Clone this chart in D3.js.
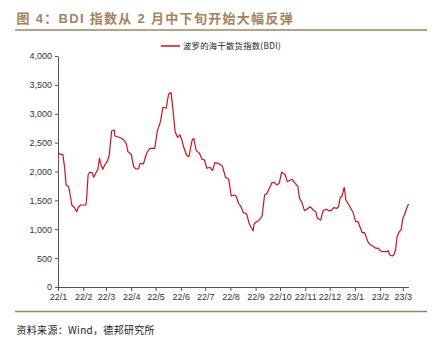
<!DOCTYPE html>
<html>
<head>
<meta charset="utf-8">
<script src="https://cdn.jsdelivr.net/npm/d3@7"></script>
<style>
  html, body { margin: 0; padding: 0; background: #fff; }
  svg { display: block; }
</style>
</head>
<body>
<svg id="chart" width="434" height="342"></svg>
<script>
// Baltic Dry Index, 2022-01 to 2023-03
const dates = [
  "2022-01-02","2022-01-07","2022-01-09","2022-01-11","2022-01-14","2022-01-16","2022-01-18","2022-01-21","2022-01-24","2022-01-26","2022-01-29",
  "2022-02-04","2022-02-05","2022-02-07","2022-02-09","2022-02-12","2022-02-14","2022-02-17","2022-02-19","2022-02-21","2022-02-23","2022-02-25","2022-02-28",
  "2022-03-03","2022-03-05","2022-03-08","2022-03-11","2022-03-12","2022-03-17","2022-03-20","2022-03-23","2022-03-26","2022-03-28",
  "2022-04-01","2022-04-04","2022-04-07","2022-04-10","2022-04-12","2022-04-16","2022-04-20","2022-04-24","2022-04-30",
  "2022-05-03","2022-05-07","2022-05-10","2022-05-14","2022-05-17","2022-05-20","2022-05-22","2022-05-25","2022-05-28","2022-05-31",
  "2022-06-02","2022-06-05","2022-06-08","2022-06-11","2022-06-15","2022-06-17","2022-06-20","2022-06-24","2022-06-27","2022-06-30",
  "2022-07-03","2022-07-07","2022-07-10","2022-07-13","2022-07-17","2022-07-22","2022-07-26","2022-07-30",
  "2022-08-02","2022-08-06","2022-08-08","2022-08-11","2022-08-14","2022-08-17","2022-08-21","2022-08-24","2022-08-26","2022-08-29","2022-08-30",
  "2022-09-02","2022-09-05","2022-09-09","2022-09-12","2022-09-15","2022-09-18","2022-09-21","2022-09-24","2022-09-27","2022-09-30",
  "2022-10-03","2022-10-07","2022-10-10","2022-10-14","2022-10-16","2022-10-19","2022-10-23","2022-10-25","2022-10-28","2022-10-31",
  "2022-11-03","2022-11-07","2022-11-11","2022-11-14","2022-11-16","2022-11-20","2022-11-23","2022-11-27","2022-11-30",
  "2022-12-03","2022-12-06","2022-12-10","2022-12-12","2022-12-14","2022-12-16","2022-12-19","2022-12-21","2022-12-24","2022-12-27","2022-12-30",
  "2023-01-02","2023-01-05","2023-01-08","2023-01-10","2023-01-13","2023-01-17","2023-01-19","2023-01-24","2023-01-27","2023-01-30",
  "2023-02-01","2023-02-05","2023-02-09","2023-02-11","2023-02-13","2023-02-16","2023-02-18","2023-02-20","2023-02-22","2023-02-24","2023-02-27",
  "2023-03-01","2023-03-03","2023-03-05","2023-03-08"
];
const bdi = [
  2304,2291,2084,1767,1737,1593,1420,1380,1304,1380,1420,
  1420,1478,1940,1987,1980,1900,1987,2038,2229,2113,2038,2125,
  2188,2286,2702,2719,2615,2593,2575,2546,2477,2344,
  2298,2084,2044,2049,2142,2130,2316,2402,2402,
  2690,2863,3112,3095,3343,3366,3123,2690,2593,2633,
  2558,2402,2286,2257,2546,2575,2361,2316,2212,2200,
  2056,2073,2015,2153,2142,2096,1900,1865,
  1576,1593,1576,1450,1391,1287,1264,1103,1044,975,1086,
  1131,1148,1230,1593,1623,1709,1806,1813,1767,1796,
  1987,1952,1824,1853,1865,1806,1737,1536,1460,1322,
  1346,1391,1334,1304,1190,1160,1322,1346,1322,
  1322,1374,1363,1391,1553,1564,1727,1507,1438,1363,1287,
  1131,1131,1017,940,940,785,745,698,670,675,
  629,611,611,629,554,537,554,641,871,940,999,
  1190,1247,1334,1438
];
const yTicks = [0, 500, 1000, 1500, 2000, 2500, 3000, 3500, 4000];
const monthTicks = [
  "2022-01-01","2022-02-01","2022-03-01","2022-04-01","2022-05-01","2022-06-01","2022-07-01",
  "2022-08-01","2022-09-01","2022-10-01","2022-11-01","2022-12-01","2023-01-01","2023-02-01","2023-03-01"
];
const seriesName = "波罗的海干散货指数(BDI)";
const titleText = "图 4：BDI 指数从 2 月中下旬开始大幅反弹";
const sourceText = "资料来源：Wind，德邦研究所";

const parse = d3.utcParse("%Y-%m-%d");
const points = dates.map((d, i) => ({ date: parse(d), value: bdi[i] }));

const svg = d3.select("#chart");
const margin = { left: 58, right: 25.5, top: 56, bottom: 55 };
const W = 434, H = 342;

const x = d3.scaleUtc()
  .domain([parse("2022-01-01"), parse("2023-03-08")])
  .range([margin.left, W - margin.right]);
const y = d3.scaleLinear()
  .domain([0, 4000])
  .range([H - margin.bottom, margin.top]);

const brown = "#a5825e";
const cjk = "'Noto Sans CJK SC', 'Liberation Sans', sans-serif";
const latin = "'Liberation Sans', Arial, sans-serif";

// Title and rule beneath it
svg.append("text")
  .attr("x", 16.5).attr("y", 22.5)
  .attr("fill", brown)
  .attr("font-family", `'Liberation Sans', ${cjk}`)
  .attr("font-weight", "bold")
  .attr("font-size", 13)
  .attr("letter-spacing", 1.3)
  .text(titleText);
svg.append("line")
  .attr("x1", 15).attr("x2", 427)
  .attr("y1", 30).attr("y2", 30)
  .attr("stroke", brown).attr("stroke-width", 1.5);

// Legend
const lg = svg.append("g").attr("transform", "translate(161,46)");
lg.append("line").attr("x1", 0).attr("x2", 19).attr("y1", 0).attr("y2", 0)
  .attr("stroke", "#d0111b").attr("stroke-width", 1.5);
lg.append("text").attr("x", 22).attr("y", 3)
  .attr("font-family", cjk).attr("font-size", 8.3).attr("fill", "#222")
  .attr("letter-spacing", 0.3)
  .text(seriesName);

// Y axis
const yAxis = svg.append("g")
  .attr("transform", `translate(${margin.left},0)`)
  .call(d3.axisLeft(y).tickValues(yTicks).tickFormat(d3.format(",")).tickSize(3).tickSizeOuter(0));
yAxis.select(".domain").attr("stroke", "#555");
yAxis.selectAll(".tick line").attr("stroke", "#555");
yAxis.selectAll(".tick text")
  .attr("font-family", latin).attr("font-size", 9).attr("fill", "#333").attr("x", -6);

// X axis
const xAxis = svg.append("g")
  .attr("transform", `translate(0,${y(0)})`)
  .call(d3.axisBottom(x).tickValues(monthTicks.map(parse))
    .tickFormat(d3.utcFormat("%y/%-m")).tickSize(4).tickSizeOuter(0));
xAxis.select(".domain").attr("stroke", "#555");
xAxis.selectAll(".tick line").attr("stroke", "#555");
xAxis.selectAll(".tick text")
  .attr("font-family", latin).attr("font-size", 9).attr("fill", "#333").attr("y", 7);

// BDI line
svg.append("path")
  .datum(points)
  .attr("fill", "none")
  .attr("stroke", "#d0111b")
  .attr("stroke-width", 1.2)
  .attr("stroke-linejoin", "round")
  .attr("d", d3.line().x(d => x(d.date)).y(d => y(d.value)));

// Footer rule and source
svg.append("line")
  .attr("x1", 15).attr("x2", 427)
  .attr("y1", 311.5).attr("y2", 311.5)
  .attr("stroke", brown).attr("stroke-width", 1.5);
svg.append("text")
  .attr("x", 16.5).attr("y", 333.5)
  .attr("font-family", cjk).attr("font-size", 10).attr("fill", "#222")
  .attr("letter-spacing", 0.3)
  .text(sourceText);
</script>
</body>
</html>
